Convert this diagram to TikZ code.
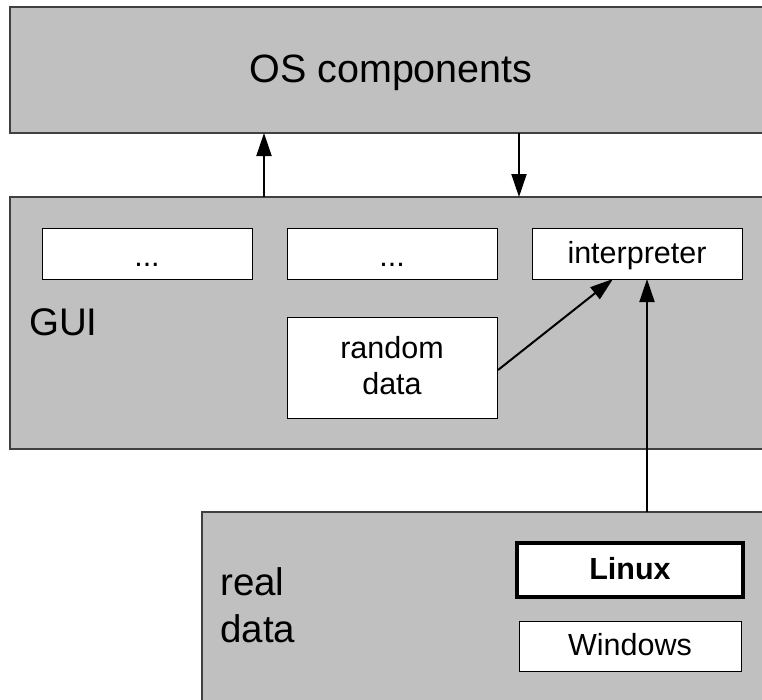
\documentclass[tikz,border=0pt]{standalone}
\usepackage{fontspec}
\setmainfont{Liberation Sans}
\usetikzlibrary{arrows.meta}
\definecolor{panel}{HTML}{C0C0C0}
\definecolor{edge}{HTML}{404040}
\begin{document}
\begin{tikzpicture}[x=1pt,y=-1pt,
  panelbox/.style={draw=edge,fill=panel,line width=1.3pt},
  whitebox/.style={draw=black,fill=white,line width=0.9pt},
  conn/.style={line width=2pt,-{Triangle[length=23pt,width=15pt]}},
  inner/.style={font=\fontsize{30.5}{36}\selectfont,anchor=base,inner sep=0pt},
  big/.style={font=\fontsize{38.5}{47}\selectfont,anchor=base west,inner sep=0pt}]
\useasboundingbox (0,0) rectangle (762,699);
\begin{scope}
\clip (0,0) rectangle (762,699);
% OS components panel
\draw[panelbox] (10,7) rectangle (790,133);
\node[big,anchor=base,font=\fontsize{39.5}{47}\selectfont] (os) at (391,82) {OS components};
% GUI panel
\draw[panelbox] (10,197) rectangle (790,449);
\node[big] (gui) at (29,335) {GUI};
% real data panel
\draw[panelbox] (202,512) rectangle (790,720);
\node[big] (real) at (220,595) {real};
\node[big] (real2) at (220,642) {data};
\end{scope}
% inner boxes
\draw[whitebox] (42,228) rectangle (252,279);
\node[inner] (d1) at (147,266) {...};
\draw[whitebox] (287,228) rectangle (497,279);
\node[inner] (d2) at (392,266) {...};
\draw[whitebox] (532,228) rectangle (742,279);
\node[inner] (interp) at (637,263) {interpreter};
\draw[whitebox] (287,317) rectangle (497,418);
\node[inner] (rand) at (392,358) {random};
\node[inner] (rand2) at (392,394) {data};
\draw[draw=black,fill=white,line width=3.5pt] (517,543) rectangle (743,597);
\node[inner,font=\bfseries\fontsize{30.5}{36}\selectfont] (linux) at (630,579) {Linux};
\draw[whitebox] (519,621) rectangle (741,671);
\node[inner] (win) at (630,655) {Windows};
% coordinates for connectors
\coordinate (guiTopL) at (264,197);
\coordinate (osBotL) at (264,133);
\coordinate (osBotR) at (519,133);
\coordinate (guiTopR) at (519,197);
\coordinate (randR) at (498,370);
\coordinate (intB1) at (613,279);
\coordinate (realTop) at (647,512);
\coordinate (intB2) at (647,279);
\draw[conn] (guiTopL) -- (osBotL);
\draw[conn] (osBotR) -- (guiTopR);
\draw[conn] (randR) -- (intB1);
\draw[conn] (realTop) -- (intB2);
\end{tikzpicture}
\end{document}
